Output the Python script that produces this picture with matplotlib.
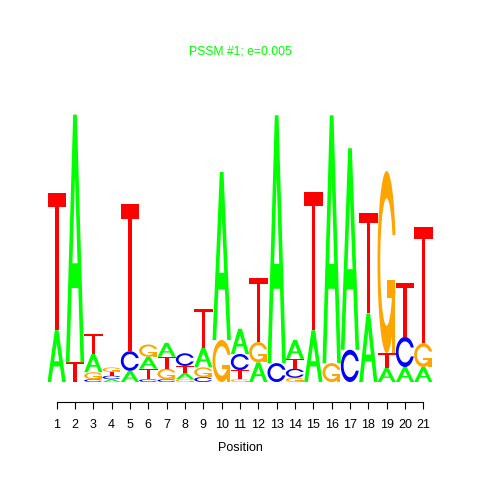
import numpy as np
import matplotlib
matplotlib.use("Agg")
import matplotlib.pyplot as plt
from matplotlib.patches import Polygon

# sequence logo, heights in bits per letter and position
positions = list(range(1, 22))
bits_A = [0.37, 1.77, 0.13, 0.02, 0.08, 0.085, 0.10, 0.045, 0.14, 1.20, 0.18,
          0.14, 1.77, 0.135, 0.37, 1.77, 1.44, 0.49, 0.10, 0.107, 0.107]
bits_C = [0, 0, 0.02, 0.025, 0.14, 0.02, 0.02, 0.09, 0.035, 0, 0.115,
          0, 0.135, 0.065, 0, 0, 0.23, 0, 0, 0.215, 0]
bits_G = [0, 0, 0.05, 0.032, 0, 0.088, 0.075, 0.02, 0.07, 0.30, 0.02,
          0.145, 0, 0.03, 0, 0.135, 0, 0, 1.30, 0, 0.17]
bits_T = [0.98, 0.14, 0.14, 0.027, 1.05, 0.075, 0.085, 0.05, 0.28, 0, 0.065,
          0.46, 0, 0.07, 0.985, 0, 0, 0.715, 0.107, 0.385, 0.83]
title = "PSSM #1; e=0.005"

colors = {'A': '#00FF00', 'C': '#0000FF', 'G': '#FFA500', 'T': '#FF0000'}

plt.rcParams['font.family'] = ['Liberation Sans', 'DejaVu Sans']


def c_outline():
    # ring-shaped C in the unit square, opening on the right
    a1 = np.linspace(0.3 + np.pi / 2, np.pi, 100)
    a2 = np.linspace(np.pi, 1.5 * np.pi, 100)
    xl1, yl1 = 0.5 + 0.5 * np.sin(a1), 0.5 + 0.5 * np.cos(a1)
    xl2, yl2 = 0.5 + 0.5 * np.sin(a2), 0.5 + 0.5 * np.cos(a2)
    xl = np.r_[xl1, xl2]
    yl = np.r_[yl1, yl2]
    x = np.r_[xl, xl[::-1]]
    y = np.r_[yl, 1 - yl[::-1]]
    xi1, yi1 = 0.5 + 0.35 * np.sin(a1), 0.5 + 0.35 * np.cos(a1)
    keep = yi1 <= yl1.max()
    xi1, yi1 = xi1[keep], yi1[keep]
    yi1[0] = yl1.max()
    xi2, yi2 = 0.5 + 0.35 * np.sin(a2), 0.5 + 0.35 * np.cos(a2)
    xi = np.r_[xi1, xi2]
    yi = np.r_[yi1, yi2]
    x1 = np.r_[xi, xi[::-1]]
    y1 = np.r_[yi, 1 - yi[::-1]]
    x = np.r_[x, x1[::-1]]
    y = np.r_[y, y1[::-1]]
    return x, y, xl1.max()


def letter_parts(letter):
    # list of (x, y, is_hole) in unit square
    if letter == 'A':
        x = np.array([0, 4, 6, 10, 8, 6.8, 3.2, 2, 0]) * 0.1
        y = np.array([0, 10, 10, 0, 0, 3, 3, 0, 0]) * 0.1
        hx = np.array([3.6, 5, 6.4, 3.6]) * 0.1
        hy = np.array([4, 7.5, 4, 4]) * 0.1
        return [(x, y, False), (hx, hy, True)]
    if letter == 'T':
        x = np.array([0, 10, 10, 6, 6, 4, 4, 0]) * 0.1
        y = np.array([10, 10, 9, 9, 0, 0, 9, 9]) * 0.1
        return [(x, y, False)]
    x, y, r1 = c_outline()
    parts = [(x, y, False)]
    if letter == 'G':
        h1 = 0.4
        ax_ = np.array([r1, 0.5, 0.5, r1 - 0.2, r1 - 0.2, r1, r1])
        ay_ = np.array([h1, h1, h1 - 0.1, h1 - 0.1, 0, 0, h1])
        parts.append((ax_, ay_, False))
    return parts


fig = plt.figure(figsize=(4.8, 4.8), dpi=100)
ax = fig.add_axes([47.5 / 480, 98 / 480, 385 / 480, 280 / 480])

table = {'A': bits_A, 'C': bits_C, 'G': bits_G, 'T': bits_T}
for i, pos in enumerate(positions):
    stack = sorted((table[L][i], L) for L in 'ACGT' if table[L][i] > 0)
    base = 0.0
    for h, L in stack:
        for px, py, hole in letter_parts(L):
            xy = np.column_stack([pos - 0.5 + px, base + h * py])
            ax.add_patch(Polygon(xy, closed=True, lw=0,
                                 facecolor='white' if hole else colors[L]))
        base += h

ax.set_xlim(0.5, 21.5)
ax.set_ylim(0, 2)
for s in ['left', 'right', 'top']:
    ax.spines[s].set_visible(False)
ax.spines['bottom'].set_position(('outward', 14.4))
ax.spines['bottom'].set_bounds(1, 21)
ax.spines['bottom'].set_linewidth(0.8)
ax.set_yticks([])
ax.set_xticks(positions)
ax.tick_params(axis='x', length=5, width=0.8, pad=7, labelsize=9)
ax.set_xlabel('Position', fontsize=9, labelpad=8)

fig.text(0.5, 1 - 51 / 480, title, color='#00FF00', fontsize=8.7,
         ha='center', va='center')

fig.savefig('out.png', dpi=100)
